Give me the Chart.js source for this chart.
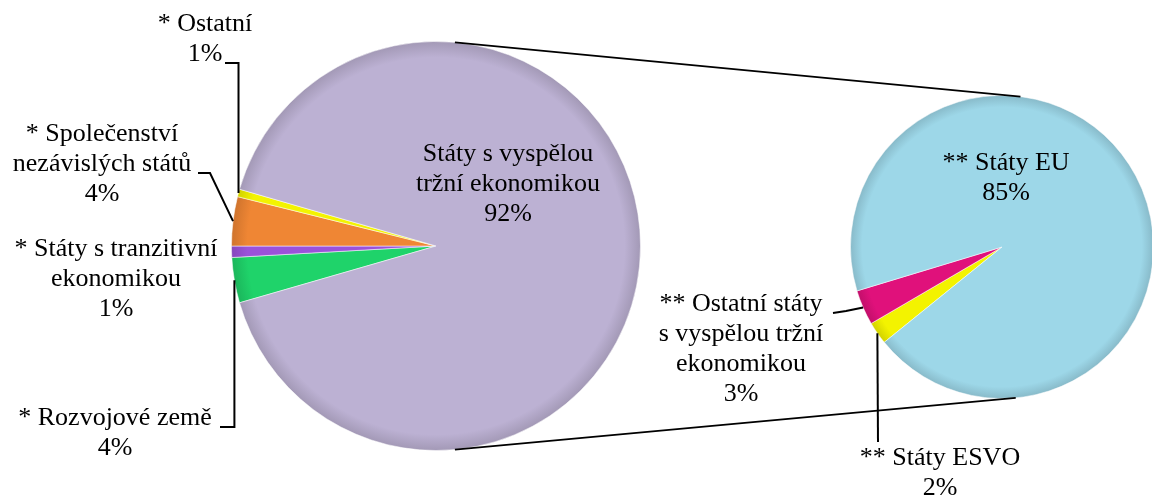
<!DOCTYPE html>
<html>
<head>
<meta charset="utf-8">
<script src="https://cdn.jsdelivr.net/npm/chart.js@4.4.0/dist/chart.umd.min.js"></script>
<style>
  html, body { margin: 0; padding: 0; background: #fff; overflow: hidden; }
  #wrap { position: relative; width: 1152px; height: 498px; overflow: hidden; }
  canvas { position: absolute; left: 0; top: 0; }
</style>
</head>
<body>
<div id="wrap">
  <canvas id="mainPie" width="1152" height="498"></canvas>
  <canvas id="subPie" width="1170" height="498"></canvas>
</div>
<script>
// left pie, clockwise starting with the lowest small slice
const mainLabels = ['* Rozvojové země', '* Státy s tranzitivní\nekonomikou', '* Společenství\nnezávislých států', '* Ostatní', 'Státy s vyspělou\ntržní ekonomikou'];
const mainValues = [3.6, 0.9, 3.9, 0.6, 91.5];
const mainColors = ['#1fd36a', '#9b52d9', '#ef8634', '#f3f300', '#bcb1d3'];

// right pie, breakdown of the developed market economies
const subLabels = ['** Státy ESVO', '** Ostatní státy\ns vyspělou tržní\nekonomikou', '** Státy EU'];
const subValues = [2.2, 3.4, 85.4];
const subColors = ['#f3f300', '#e0117b', '#9dd7e8'];

// label placement (text block centre x, first line centre y) and leader lines
const mainLayout = [
  { x: 115, y: 418, from: [220, 427], via: 'h' },
  { x: 116, y: 249 },
  { x: 102, y: 134, from: [198, 173], via: [210, 173] },
  { x: 205, y: 24, from: [225, 63], via: 'h' },
  { x: 508, y: 154 }
];
const subLayout = [
  { x: 940, y: 458, from: [878, 442], via: 'h' },
  { x: 741, y: 304, from: [833, 313], via: [846, 311] },
  { x: 1006, y: 163 }
];

const FONT = '26px "Liberation Serif", "Times New Roman", serif';
const LINE_H = 30;

function darken(hex, f) {
  const n = parseInt(hex.slice(1), 16);
  const r = Math.round(((n >> 16) & 255) * f);
  const g = Math.round(((n >> 8) & 255) * f);
  const b = Math.round((n & 255) * f);
  return `rgb(${r},${g},${b})`;
}

function shade(ctx, color) {
  const area = ctx.chart.chartArea;
  if (!area) return color;
  const cx = (area.left + area.right) / 2;
  const cy = (area.top + area.bottom) / 2;
  const r = Math.min(area.width, area.height) / 2;
  const g = ctx.chart.ctx.createRadialGradient(cx, cy, 0, cx, cy, r);
  g.addColorStop(0, color);
  g.addColorStop(0.92, color);
  g.addColorStop(1, darken(color, 0.86));
  return g;
}

function makeLabelPlugin(labels, values, layout) {
  return {
    id: 'sliceLabels',
    afterDraw(chart) {
      const ctx = chart.ctx;
      const arcs = chart.getDatasetMeta(0).data;
      ctx.save();
      ctx.font = FONT;
      ctx.fillStyle = '#000';
      ctx.textAlign = 'center';
      ctx.textBaseline = 'middle';
      ctx.strokeStyle = '#000';
      ctx.lineWidth = 2;
      layout.forEach((pos, i) => {
        const lines = labels[i].split('\n').concat(Math.round(values[i]) + '%');
        lines.forEach((t, k) => ctx.fillText(t, pos.x, pos.y + k * LINE_H));
        if (!pos.from) return;
        const a = arcs[i];
        const mid = (a.startAngle + a.endAngle) / 2;
        const px = a.x + Math.cos(mid) * a.outerRadius;
        const py = a.y + Math.sin(mid) * a.outerRadius;
        ctx.beginPath();
        ctx.moveTo(pos.from[0], pos.from[1]);
        if (pos.via === 'h') {
          if (Math.abs(pos.from[0] - px) > 2) ctx.lineTo(px, pos.from[1]);
        } else if (pos.via) {
          ctx.lineTo(pos.via[0], pos.via[1]);
        }
        ctx.lineTo(px, py);
        ctx.stroke();
      });
      ctx.restore();
    }
  };
}

function pieOptions(padding, rotation) {
  return {
    responsive: false,
    animation: false,
    rotation: rotation,
    layout: { padding: padding },
    plugins: { legend: { display: false }, tooltip: { enabled: false } },
    elements: { arc: { borderWidth: 1, borderColor: 'rgba(255,255,255,0.5)' } }
  };
}

const smallShare = mainValues.slice(0, 4).reduce((s, v) => s + v, 0) /
  mainValues.reduce((s, v) => s + v, 0) * 360;

const mainChart = new Chart(document.getElementById('mainPie'), {
  type: 'pie',
  data: {
    labels: mainLabels,
    datasets: [{
      data: mainValues,
      backgroundColor: ctx => shade(ctx, mainColors[ctx.dataIndex])
    }]
  },
  options: pieOptions({ left: 231, right: 511, top: 41, bottom: 47 }, 270 - smallShare / 2),
  plugins: [makeLabelPlugin(mainLabels, mainValues, mainLayout)]
});

// lines joining the big slice with the second pie
const connectors = {
  id: 'connectors',
  afterDraw(chart) {
    const a = mainChart.getDatasetMeta(0).data[4];
    const b = chart.getDatasetMeta(0).data[0];
    const ctx = chart.ctx;
    const d1 = 5.3 * Math.PI / 180, d2 = 7 * Math.PI / 180, d3 = 5.2 * Math.PI / 180;
    ctx.save();
    ctx.strokeStyle = '#000';
    ctx.lineWidth = 2;
    ctx.beginPath();
    ctx.moveTo(a.x + Math.sin(d1) * a.outerRadius, a.y - Math.cos(d1) * a.outerRadius);
    ctx.lineTo(b.x + Math.sin(d2) * b.outerRadius, b.y - Math.cos(d2) * b.outerRadius);
    ctx.moveTo(a.x + Math.sin(d1) * a.outerRadius, a.y + Math.cos(d1) * a.outerRadius);
    ctx.lineTo(b.x + Math.sin(d3) * b.outerRadius, b.y + Math.cos(d3) * b.outerRadius);
    ctx.stroke();
    ctx.restore();
  }
};

const subChart = new Chart(document.getElementById('subPie'), {
  type: 'pie',
  data: {
    labels: subLabels,
    datasets: [{
      data: subValues,
      backgroundColor: ctx => shade(ctx, subColors[ctx.dataIndex])
    }]
  },
  options: pieOptions({ left: 850, right: 16, top: 94, bottom: 98 }, 231),
  plugins: [connectors, makeLabelPlugin(subLabels, subValues, subLayout)]
});
</script>
</body>
</html>
